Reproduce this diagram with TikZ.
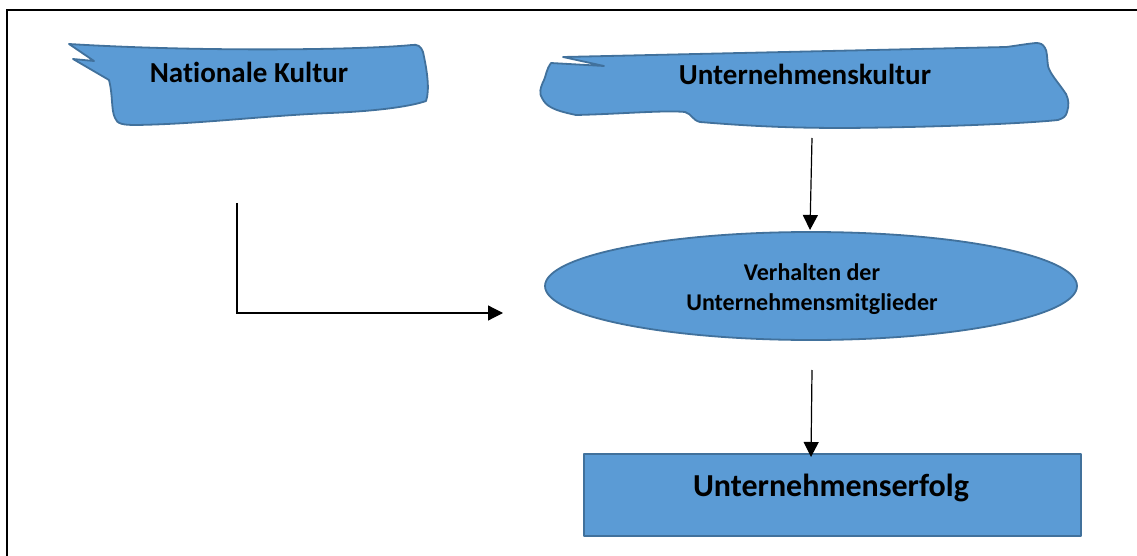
\documentclass[tikz,border=0pt]{standalone}
\usepackage{fontspec}
\setmainfont{Carlito}[Ligatures=NoCommon]
\usetikzlibrary{arrows.meta,shapes.geometric}
\definecolor{fillblue}{HTML}{5B9BD5}
\definecolor{edgeblue}{HTML}{41719C}
\tikzset{
  shapefill/.style={fill=fillblue,draw=edgeblue,line width=1.8pt,line join=round},
  lbl/.style={anchor=base,inner sep=0pt,font=\bfseries},
  arr/.style={line width=1.2pt,-{Triangle[length=15pt,width=15pt]}},
  frame/.style={line width=2.5pt}
}
\begin{document}
\begin{tikzpicture}[x=1pt,y=-1pt]
\useasboundingbox (0,0) rectangle (1137,556);
% frame (top and left only)
\draw[frame] (7,556) -- (7,10) -- (1137,10);
% Nationale Kultur banner
\draw[shapefill] (69,44) -- (94,61) -- (73,59) -- (109,80)
  .. controls (113,95) and (111,110) .. (115,118)
  .. controls (117,124) and (123,125) .. (136,125)
  .. controls (200,124) and (260,116) .. (330,113)
  .. controls (380,111) and (412,106) .. (426,101)
  .. controls (430,90) and (427,70) .. (423,52)
  .. controls (421,46) and (417,44) .. (412,45)
  .. controls (360,50) and (200,52) .. (69,44) -- cycle;
\node[lbl,font=\bfseries\fontsize{29}{34}\selectfont] (nk) at (249,83) {Nationale Kultur};
% Unternehmenskultur banner
\draw[shapefill] (563,57) -- (604,66) -- (551,63)
  .. controls (546,70) and (546,76) .. (544,80)
  .. controls (540,88) and (539,94) .. (542,98)
  .. controls (546,106) and (552,110) .. (576,115)
  .. controls (620,114) and (665,110) .. (685,112)
  .. controls (692,114) and (692,120) .. (700,122)
  .. controls (760,127) and (800,128) .. (847,128)
  .. controls (950,127) and (1030,123) .. (1058,120)
  .. controls (1064,118) and (1066,116) .. (1067,112)
  .. controls (1069,106) and (1069,100) .. (1066,94)
  .. controls (1058,82) and (1050,74) .. (1048,66)
  .. controls (1047,58) and (1047,50) .. (1045,48)
  .. controls (1043,44) and (1040,43) .. (1036,43)
  .. controls (1025,44) and (1015,46) .. (1006,47)
  -- cycle;
\node[lbl,font=\bfseries\fontsize{29}{34}\selectfont] (uk) at (805,85) {Unternehmenskultur};
% Ellipse
\node[ellipse,shapefill,minimum width=532pt,minimum height=108pt,inner sep=0pt] (verh) at (811,286) {};
\node[lbl,font=\bfseries\fontsize{24}{30}\selectfont] (v1) at (812,280) {Verhalten der};
\node[lbl,font=\bfseries\fontsize{24}{30}\selectfont] (v2) at (812,310) {Unternehmensmitglieder};
% Rectangle
\node[rectangle,shapefill,minimum width=497pt,minimum height=82pt,inner sep=0pt] (erf) at (832.5,495) {};
\node[lbl,font=\bfseries\fontsize{32}{38}\selectfont] (erft) at (831,496) {Unternehmenserfolg};
% connectors
\coordinate (a1s) at (812,138);
\coordinate (a1e) at (810,230);
\draw[arr] (a1s) -- (a1e);
\coordinate (a2s) at (812,370);
\coordinate (a2e) at (811,457);
\draw[arr] (a2s) -- (a2e);
\coordinate (a3s) at (237,203);
\coordinate (a3c) at (237,313);
\coordinate (a3e) at (503,313);
\draw[arr] (a3s) -- (a3c) -- (a3e);
\end{tikzpicture}
\end{document}
